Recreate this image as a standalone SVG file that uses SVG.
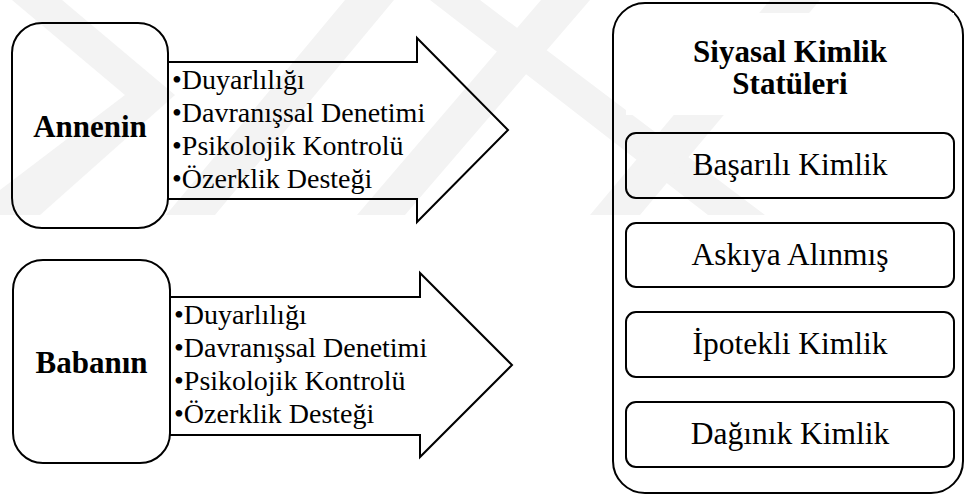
<svg xmlns="http://www.w3.org/2000/svg" width="965" height="495" viewBox="0 0 965 495">
<style>
.ln{fill:none;stroke:#000;stroke-width:2;stroke-linejoin:miter}
.wm{fill:#f3f3f3;stroke:none}
.it{font-size:28px;fill:#000}
.tb{font-size:31px;font-weight:bold;fill:#000;text-anchor:middle}
.st{font-size:31.5px;fill:#000;text-anchor:middle}
</style>
<rect x="0" y="0" width="965" height="495" fill="#fff"/>
<g id="watermark">
<polygon class="wm" points="12,0 62,0 175,95 40,215 0,215 0,190 125,95"/>
<polygon class="wm" points="166,215 215,215 394,0 345,0"/>
<polygon class="wm" points="357,215 405,215 590,0 541,0"/>
<polygon class="wm" points="430,0 480,0 765,215 708,215"/>
<polygon class="wm" points="590,215 640,215 820,0 770,0"/>
</g>
<g id="connectors">
<path id="arrow-mother" class="ln" d="M168,62 H417 V38 L508,130 L417,222 V199 H168"/>
<path id="arrow-father" class="ln" d="M170,297 H420 V273 L512,365 L420,457 V435 H170"/>
</g>
<g font-family="'Liberation Serif', 'Times New Roman', 'DejaVu Serif', serif">
<g id="mother-items">
<text class="it" x="172" y="88.5">•Duyarlılığı</text>
<text class="it" x="172" y="121.5">•Davranışsal Denetimi</text>
<text class="it" x="172" y="154.5">•Psikolojik Kontrolü</text>
<text class="it" x="172" y="187.5">•Özerklik Desteği</text>
</g>
<g id="father-items">
<text class="it" x="174" y="323.5">•Duyarlılığı</text>
<text class="it" x="174" y="356.5">•Davranışsal Denetimi</text>
<text class="it" x="174" y="389.5">•Psikolojik Kontrolü</text>
<text class="it" x="174" y="422.5">•Özerklik Desteği</text>
</g>
<g id="mother">
<rect class="ln" x="12" y="23" width="156" height="205" rx="30" ry="30" fill="#fff"/>
<text class="tb" x="90" y="137">Annenin</text>
</g>
<g id="father">
<rect class="ln" x="13" y="260" width="157" height="203" rx="30" ry="30"/>
<text class="tb" x="91.5" y="373">Babanın</text>
</g>
<g id="statuses">
<rect class="ln" x="613" y="3" width="350" height="490" rx="32" ry="32"/>
<rect x="626" y="13" width="328" height="102" fill="#fff"/>
<text class="tb" x="790" y="62">Siyasal Kimlik</text>
<text class="tb" x="790" y="94">Statüleri</text>
</g>
<g id="achieved">
<rect class="ln" x="626" y="133" width="328" height="65" rx="10" ry="10"/>
<text class="st" x="790" y="175">Başarılı Kimlik</text>
</g>
<g id="moratorium">
<rect class="ln" x="626" y="223" width="328" height="64" rx="10" ry="10"/>
<text class="st" x="790" y="265">Askıya Alınmış</text>
</g>
<g id="foreclosed">
<rect class="ln" x="626" y="312" width="328" height="65" rx="10" ry="10"/>
<text class="st" x="790" y="354">İpotekli Kimlik</text>
</g>
<g id="diffused">
<rect class="ln" x="626" y="402" width="328" height="65" rx="10" ry="10"/>
<text class="st" x="790" y="444">Dağınık Kimlik</text>
</g>
</g>
</svg>
